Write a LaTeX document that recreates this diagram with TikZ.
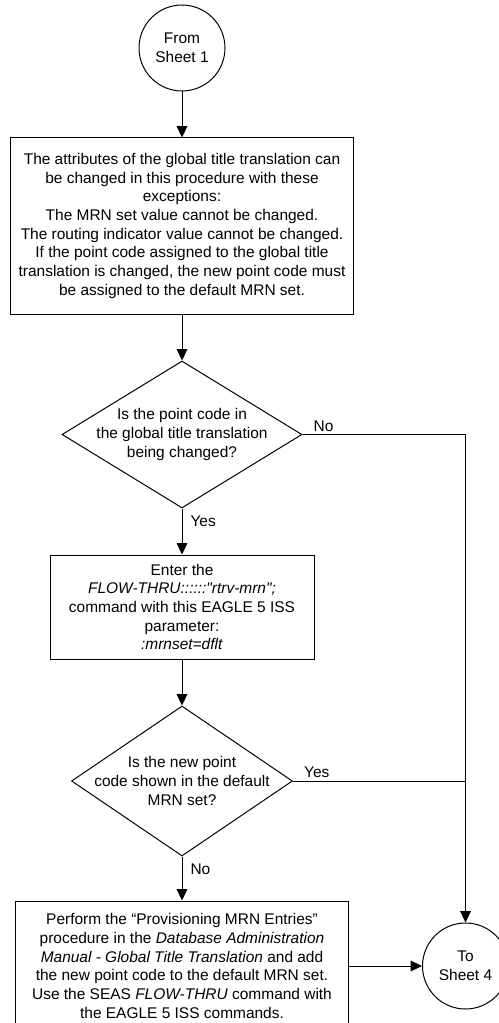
\documentclass[tikz,border=0pt]{standalone}
\usepackage{fontspec}
\setmainfont{Liberation Sans}
\usetikzlibrary{arrows.meta,positioning,shapes.geometric}

\begin{document}
\begin{tikzpicture}[x=0.75pt, y=-0.75pt, line width=0.75pt,
      font=\fontsize{11.6pt}{14pt}\selectfont, node distance=34.5pt,
      term/.style={circle, draw, fill=white, align=center, minimum size=64.5pt, inner sep=0pt},
      proc/.style={rectangle, draw, fill=white, align=center, inner sep=2pt},
      dec/.style={diamond, draw, fill=white, inner sep=0pt},
      lbl/.style={inner sep=2pt},
      flow/.style={-{Triangle[length=8.5pt,width=8pt]}}]
    \useasboundingbox (0,0) rectangle (499,1023);
    \node[term] (start) at (182,48) {From\\Sheet 1};
    \node[proc, minimum width=257.25pt, minimum height=132pt, below=of start] (b1) {The attributes of the global title translation can\\be changed in this procedure with these\\exceptions:\\The MRN set value cannot be changed.\\The routing indicator value cannot be changed.\\If the point code assigned to the global title\\translation is changed, the new point code must\\be assigned to the default MRN set.};
    \node[dec, minimum width=180pt, minimum height=110.25pt, below=of b1] (d1) {};
    \node[align=center] (d1txt) at (d1) {Is the point code in\\the global title translation\\being changed?};
    \node[proc, minimum width=198pt, minimum height=78pt, below=of d1] (b2) {Enter the\\\textit{FLOW-THRU::::::\textquotedbl rtrv-mrn\textquotedbl;}\\command with this EAGLE 5 ISS\\parameter:\\\textit{:mrnset=dflt}};
    \node[dec, minimum width=165.75pt, minimum height=112.5pt, below=of b2] (d2) {};
    \node[align=center] (d2txt) at (d2) {Is the new point\\code shown in the default\\MRN set?};
    \node[proc, minimum width=249.75pt, minimum height=97.5pt, below=33pt of d2] (b3) {Perform the “Provisioning MRN Entries”\\procedure in the \textit{Database Administration}\\\textit{Manual - Global Title Translation} and add\\the new point code to the default MRN set.\\Use the SEAS \textit{FLOW-THRU} command with\\the EAGLE 5 ISS commands.};
    \node[term, right=54.75pt of b3] (s4) {To\\Sheet 4};
    \draw[flow] (start) -- (b1);
    \draw[flow] (b1) -- (d1);
    \draw[flow] (d1.south) node[lbl, anchor=north west, xshift=4pt, yshift=-3pt] {Yes} -- (b2);
    \draw[flow] (d1.east) node[lbl, anchor=south west, xshift=6pt] {No} -| (s4);
    \draw[flow] (b2) -- (d2);
    \draw (d2.east) node[lbl, anchor=south west, xshift=6pt] {Yes} -- (d2.east -| s4.north);
    \draw[flow] (d2.south) node[lbl, anchor=north west, xshift=4pt, yshift=-3pt] {No} -- (b3);
    \draw[flow] (b3) -- (s4);
  \end{tikzpicture}
\end{document}
